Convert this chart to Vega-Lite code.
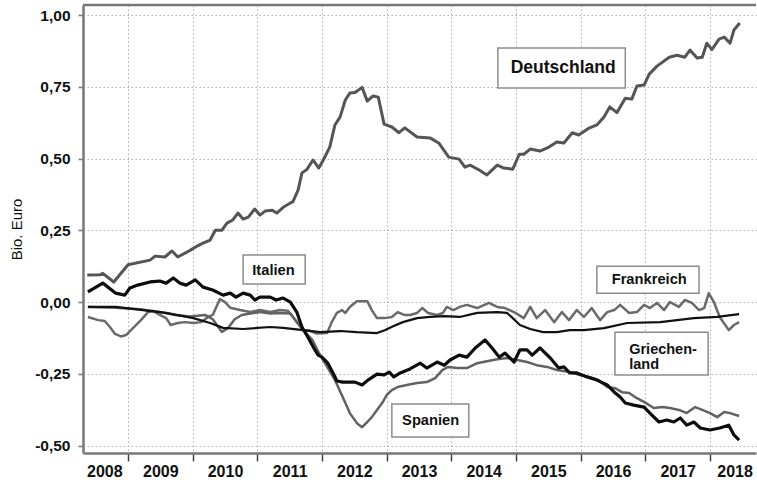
{
  "$schema": "https://vega.github.io/schema/vega-lite/v6.json",
  "width": 673,
  "height": 448,
  "autosize": {"type": "none"},
  "padding": {"left": 83, "top": 5, "right": 1, "bottom": 29},
  "background": "white",
  "config": {"view": {"stroke": null}, "font": "Liberation Sans"},
  "datasets": {
    "de": [
      {"jahr": 2008.37, "wert": 0.094}, {"jahr": 2008.57, "wert": 0.095}, {"jahr": 2008.61, "wert": 0.10}, {"jahr": 2008.78, "wert": 0.07},
      {"jahr": 2009.00, "wert": 0.13}, {"jahr": 2009.34, "wert": 0.146}, {"jahr": 2009.42, "wert": 0.16}, {"jahr": 2009.57, "wert": 0.157},
      {"jahr": 2009.68, "wert": 0.178}, {"jahr": 2009.77, "wert": 0.157}, {"jahr": 2009.96, "wert": 0.18}, {"jahr": 2010.07, "wert": 0.195},
      {"jahr": 2010.16, "wert": 0.205}, {"jahr": 2010.27, "wert": 0.216}, {"jahr": 2010.35, "wert": 0.25}, {"jahr": 2010.45, "wert": 0.25},
      {"jahr": 2010.53, "wert": 0.275}, {"jahr": 2010.62, "wert": 0.286}, {"jahr": 2010.70, "wert": 0.31}, {"jahr": 2010.78, "wert": 0.289},
      {"jahr": 2010.86, "wert": 0.296}, {"jahr": 2010.96, "wert": 0.324}, {"jahr": 2011.04, "wert": 0.303}, {"jahr": 2011.12, "wert": 0.317},
      {"jahr": 2011.23, "wert": 0.32}, {"jahr": 2011.30, "wert": 0.31}, {"jahr": 2011.40, "wert": 0.33}, {"jahr": 2011.51, "wert": 0.345},
      {"jahr": 2011.55, "wert": 0.35}, {"jahr": 2011.63, "wert": 0.39}, {"jahr": 2011.69, "wert": 0.45}, {"jahr": 2011.77, "wert": 0.463},
      {"jahr": 2011.86, "wert": 0.495}, {"jahr": 2011.95, "wert": 0.467}, {"jahr": 2012.02, "wert": 0.495}, {"jahr": 2012.12, "wert": 0.54},
      {"jahr": 2012.20, "wert": 0.617}, {"jahr": 2012.28, "wert": 0.645}, {"jahr": 2012.36, "wert": 0.704}, {"jahr": 2012.43, "wert": 0.728},
      {"jahr": 2012.51, "wert": 0.73}, {"jahr": 2012.62, "wert": 0.748}, {"jahr": 2012.70, "wert": 0.70}, {"jahr": 2012.79, "wert": 0.718},
      {"jahr": 2012.87, "wert": 0.714}, {"jahr": 2012.96, "wert": 0.62}, {"jahr": 2013.08, "wert": 0.61}, {"jahr": 2013.19, "wert": 0.59},
      {"jahr": 2013.28, "wert": 0.607}, {"jahr": 2013.47, "wert": 0.575}, {"jahr": 2013.67, "wert": 0.572}, {"jahr": 2013.81, "wert": 0.553},
      {"jahr": 2013.96, "wert": 0.505}, {"jahr": 2014.12, "wert": 0.498}, {"jahr": 2014.21, "wert": 0.47}, {"jahr": 2014.29, "wert": 0.477},
      {"jahr": 2014.43, "wert": 0.46}, {"jahr": 2014.55, "wert": 0.443}, {"jahr": 2014.71, "wert": 0.477}, {"jahr": 2014.81, "wert": 0.467},
      {"jahr": 2014.95, "wert": 0.463}, {"jahr": 2015.05, "wert": 0.515}, {"jahr": 2015.12, "wert": 0.515}, {"jahr": 2015.22, "wert": 0.533},
      {"jahr": 2015.37, "wert": 0.526}, {"jahr": 2015.51, "wert": 0.54}, {"jahr": 2015.63, "wert": 0.558}, {"jahr": 2015.74, "wert": 0.554},
      {"jahr": 2015.87, "wert": 0.59}, {"jahr": 2015.97, "wert": 0.582}, {"jahr": 2016.13, "wert": 0.606}, {"jahr": 2016.25, "wert": 0.617},
      {"jahr": 2016.36, "wert": 0.645}, {"jahr": 2016.45, "wert": 0.68}, {"jahr": 2016.56, "wert": 0.66}, {"jahr": 2016.69, "wert": 0.71},
      {"jahr": 2016.79, "wert": 0.707}, {"jahr": 2016.87, "wert": 0.753}, {"jahr": 2016.98, "wert": 0.756}, {"jahr": 2017.06, "wert": 0.794},
      {"jahr": 2017.18, "wert": 0.822}, {"jahr": 2017.37, "wert": 0.853}, {"jahr": 2017.49, "wert": 0.86}, {"jahr": 2017.61, "wert": 0.853},
      {"jahr": 2017.69, "wert": 0.878}, {"jahr": 2017.80, "wert": 0.85}, {"jahr": 2017.88, "wert": 0.853}, {"jahr": 2017.95, "wert": 0.902},
      {"jahr": 2018.03, "wert": 0.88}, {"jahr": 2018.14, "wert": 0.916}, {"jahr": 2018.22, "wert": 0.923}, {"jahr": 2018.31, "wert": 0.902},
      {"jahr": 2018.37, "wert": 0.948}, {"jahr": 2018.46, "wert": 0.972}
    ],
    "it": [
      {"jahr": 2008.38, "wert": 0.035}, {"jahr": 2008.61, "wert": 0.066}, {"jahr": 2008.69, "wert": 0.052}, {"jahr": 2008.81, "wert": 0.031},
      {"jahr": 2008.95, "wert": 0.024}, {"jahr": 2009.03, "wert": 0.049}, {"jahr": 2009.15, "wert": 0.059}, {"jahr": 2009.34, "wert": 0.07},
      {"jahr": 2009.49, "wert": 0.073}, {"jahr": 2009.59, "wert": 0.066}, {"jahr": 2009.70, "wert": 0.084}, {"jahr": 2009.80, "wert": 0.066},
      {"jahr": 2009.90, "wert": 0.059}, {"jahr": 2010.04, "wert": 0.077}, {"jahr": 2010.16, "wert": 0.052}, {"jahr": 2010.31, "wert": 0.042},
      {"jahr": 2010.47, "wert": 0.024}, {"jahr": 2010.58, "wert": 0.031}, {"jahr": 2010.67, "wert": 0.017}, {"jahr": 2010.78, "wert": 0.031},
      {"jahr": 2010.89, "wert": 0.024}, {"jahr": 2010.96, "wert": 0.007}, {"jahr": 2011.04, "wert": 0.017}, {"jahr": 2011.20, "wert": 0.017},
      {"jahr": 2011.29, "wert": 0.007}, {"jahr": 2011.40, "wert": 0.014}, {"jahr": 2011.51, "wert": 0.0}, {"jahr": 2011.61, "wert": -0.035},
      {"jahr": 2011.69, "wert": -0.087}, {"jahr": 2011.78, "wert": -0.122}, {"jahr": 2011.89, "wert": -0.167}, {"jahr": 2011.94, "wert": -0.185},
      {"jahr": 2012.00, "wert": -0.192}, {"jahr": 2012.09, "wert": -0.213}, {"jahr": 2012.17, "wert": -0.247}, {"jahr": 2012.23, "wert": -0.275},
      {"jahr": 2012.32, "wert": -0.279}, {"jahr": 2012.51, "wert": -0.279}, {"jahr": 2012.62, "wert": -0.289}, {"jahr": 2012.71, "wert": -0.272},
      {"jahr": 2012.85, "wert": -0.251}, {"jahr": 2012.96, "wert": -0.254}, {"jahr": 2013.04, "wert": -0.244}, {"jahr": 2013.11, "wert": -0.261},
      {"jahr": 2013.21, "wert": -0.247}, {"jahr": 2013.36, "wert": -0.233}, {"jahr": 2013.52, "wert": -0.213}, {"jahr": 2013.62, "wert": -0.23},
      {"jahr": 2013.78, "wert": -0.209}, {"jahr": 2013.89, "wert": -0.22}, {"jahr": 2013.98, "wert": -0.202}, {"jahr": 2014.12, "wert": -0.185},
      {"jahr": 2014.24, "wert": -0.192}, {"jahr": 2014.37, "wert": -0.16}, {"jahr": 2014.52, "wert": -0.132}, {"jahr": 2014.63, "wert": -0.16},
      {"jahr": 2014.74, "wert": -0.192}, {"jahr": 2014.83, "wert": -0.178}, {"jahr": 2014.97, "wert": -0.209}, {"jahr": 2015.06, "wert": -0.167},
      {"jahr": 2015.17, "wert": -0.167}, {"jahr": 2015.25, "wert": -0.185}, {"jahr": 2015.37, "wert": -0.16}, {"jahr": 2015.53, "wert": -0.195},
      {"jahr": 2015.66, "wert": -0.23}, {"jahr": 2015.74, "wert": -0.226}, {"jahr": 2015.83, "wert": -0.247}, {"jahr": 2015.94, "wert": -0.247},
      {"jahr": 2016.10, "wert": -0.261}, {"jahr": 2016.25, "wert": -0.272}, {"jahr": 2016.41, "wert": -0.289}, {"jahr": 2016.52, "wert": -0.314},
      {"jahr": 2016.61, "wert": -0.331}, {"jahr": 2016.69, "wert": -0.352}, {"jahr": 2016.82, "wert": -0.359}, {"jahr": 2016.98, "wert": -0.366},
      {"jahr": 2017.07, "wert": -0.387}, {"jahr": 2017.21, "wert": -0.418}, {"jahr": 2017.33, "wert": -0.411}, {"jahr": 2017.44, "wert": -0.418},
      {"jahr": 2017.54, "wert": -0.404}, {"jahr": 2017.64, "wert": -0.429}, {"jahr": 2017.75, "wert": -0.418}, {"jahr": 2017.85, "wert": -0.439},
      {"jahr": 2018.00, "wert": -0.446}, {"jahr": 2018.15, "wert": -0.439}, {"jahr": 2018.29, "wert": -0.429}, {"jahr": 2018.37, "wert": -0.463},
      {"jahr": 2018.45, "wert": -0.481}
    ],
    "es": [
      {"jahr": 2008.38, "wert": -0.017}, {"jahr": 2008.81, "wert": -0.02}, {"jahr": 2009.19, "wert": -0.025}, {"jahr": 2009.49, "wert": -0.035},
      {"jahr": 2009.73, "wert": -0.045}, {"jahr": 2009.96, "wert": -0.05}, {"jahr": 2010.19, "wert": -0.045}, {"jahr": 2010.31, "wert": -0.06},
      {"jahr": 2010.39, "wert": -0.085}, {"jahr": 2010.45, "wert": -0.104}, {"jahr": 2010.55, "wert": -0.09}, {"jahr": 2010.65, "wert": -0.06},
      {"jahr": 2010.76, "wert": -0.045}, {"jahr": 2010.89, "wert": -0.04}, {"jahr": 2011.04, "wert": -0.035}, {"jahr": 2011.20, "wert": -0.04},
      {"jahr": 2011.35, "wert": -0.038}, {"jahr": 2011.51, "wert": -0.04}, {"jahr": 2011.61, "wert": -0.07}, {"jahr": 2011.71, "wert": -0.098},
      {"jahr": 2011.85, "wert": -0.132}, {"jahr": 2011.97, "wert": -0.185}, {"jahr": 2012.08, "wert": -0.226}, {"jahr": 2012.20, "wert": -0.272},
      {"jahr": 2012.32, "wert": -0.331}, {"jahr": 2012.43, "wert": -0.387}, {"jahr": 2012.54, "wert": -0.422}, {"jahr": 2012.62, "wert": -0.436},
      {"jahr": 2012.70, "wert": -0.418}, {"jahr": 2012.77, "wert": -0.401}, {"jahr": 2012.85, "wert": -0.376}, {"jahr": 2012.93, "wert": -0.352},
      {"jahr": 2013.00, "wert": -0.324}, {"jahr": 2013.08, "wert": -0.307}, {"jahr": 2013.17, "wert": -0.296}, {"jahr": 2013.31, "wert": -0.289},
      {"jahr": 2013.47, "wert": -0.282}, {"jahr": 2013.62, "wert": -0.279}, {"jahr": 2013.75, "wert": -0.265}, {"jahr": 2013.86, "wert": -0.237},
      {"jahr": 2013.95, "wert": -0.226}, {"jahr": 2014.09, "wert": -0.23}, {"jahr": 2014.24, "wert": -0.23}, {"jahr": 2014.40, "wert": -0.213},
      {"jahr": 2014.55, "wert": -0.206}, {"jahr": 2014.71, "wert": -0.199}, {"jahr": 2014.86, "wert": -0.195}, {"jahr": 2015.02, "wert": -0.202},
      {"jahr": 2015.17, "wert": -0.209}, {"jahr": 2015.32, "wert": -0.22}, {"jahr": 2015.48, "wert": -0.226}, {"jahr": 2015.63, "wert": -0.237},
      {"jahr": 2015.83, "wert": -0.244}, {"jahr": 2015.99, "wert": -0.254}, {"jahr": 2016.14, "wert": -0.261}, {"jahr": 2016.28, "wert": -0.272},
      {"jahr": 2016.41, "wert": -0.296}, {"jahr": 2016.53, "wert": -0.3}, {"jahr": 2016.64, "wert": -0.314}, {"jahr": 2016.75, "wert": -0.317},
      {"jahr": 2016.84, "wert": -0.331}, {"jahr": 2016.98, "wert": -0.348}, {"jahr": 2017.13, "wert": -0.369}, {"jahr": 2017.26, "wert": -0.366},
      {"jahr": 2017.38, "wert": -0.369}, {"jahr": 2017.52, "wert": -0.376}, {"jahr": 2017.64, "wert": -0.387}, {"jahr": 2017.77, "wert": -0.366},
      {"jahr": 2017.88, "wert": -0.376}, {"jahr": 2018.00, "wert": -0.387}, {"jahr": 2018.11, "wert": -0.401}, {"jahr": 2018.22, "wert": -0.383},
      {"jahr": 2018.31, "wert": -0.387}, {"jahr": 2018.45, "wert": -0.397}
    ],
    "fr": [
      {"jahr": 2008.38, "wert": -0.052}, {"jahr": 2008.54, "wert": -0.063}, {"jahr": 2008.64, "wert": -0.066}, {"jahr": 2008.72, "wert": -0.087},
      {"jahr": 2008.80, "wert": -0.111}, {"jahr": 2008.89, "wert": -0.12}, {"jahr": 2008.97, "wert": -0.115}, {"jahr": 2009.08, "wert": -0.09},
      {"jahr": 2009.20, "wert": -0.063}, {"jahr": 2009.31, "wert": -0.035}, {"jahr": 2009.39, "wert": -0.031}, {"jahr": 2009.49, "wert": -0.045},
      {"jahr": 2009.59, "wert": -0.056}, {"jahr": 2009.66, "wert": -0.08}, {"jahr": 2009.77, "wert": -0.073}, {"jahr": 2009.88, "wert": -0.07},
      {"jahr": 2010.01, "wert": -0.073}, {"jahr": 2010.13, "wert": -0.07}, {"jahr": 2010.24, "wert": -0.052}, {"jahr": 2010.31, "wert": -0.045},
      {"jahr": 2010.38, "wert": -0.01}, {"jahr": 2010.42, "wert": 0.01}, {"jahr": 2010.50, "wert": 0.0}, {"jahr": 2010.58, "wert": -0.02},
      {"jahr": 2010.73, "wert": -0.028}, {"jahr": 2010.89, "wert": -0.035}, {"jahr": 2011.04, "wert": -0.028}, {"jahr": 2011.20, "wert": -0.035},
      {"jahr": 2011.35, "wert": -0.028}, {"jahr": 2011.47, "wert": -0.03}, {"jahr": 2011.58, "wert": -0.06}, {"jahr": 2011.71, "wert": -0.098},
      {"jahr": 2011.81, "wert": -0.1}, {"jahr": 2011.92, "wert": -0.11}, {"jahr": 2012.08, "wert": -0.108}, {"jahr": 2012.15, "wert": -0.07},
      {"jahr": 2012.23, "wert": -0.038}, {"jahr": 2012.31, "wert": -0.028}, {"jahr": 2012.36, "wert": -0.038}, {"jahr": 2012.43, "wert": -0.017},
      {"jahr": 2012.54, "wert": 0.003}, {"jahr": 2012.70, "wert": 0.003}, {"jahr": 2012.77, "wert": -0.028}, {"jahr": 2012.85, "wert": -0.056},
      {"jahr": 2012.97, "wert": -0.056}, {"jahr": 2013.08, "wert": -0.052}, {"jahr": 2013.17, "wert": -0.035}, {"jahr": 2013.27, "wert": -0.045},
      {"jahr": 2013.36, "wert": -0.045}, {"jahr": 2013.47, "wert": -0.038}, {"jahr": 2013.55, "wert": -0.021}, {"jahr": 2013.64, "wert": -0.038},
      {"jahr": 2013.78, "wert": -0.045}, {"jahr": 2013.87, "wert": -0.038}, {"jahr": 2013.93, "wert": -0.017}, {"jahr": 2014.03, "wert": -0.028},
      {"jahr": 2014.13, "wert": -0.017}, {"jahr": 2014.24, "wert": -0.01}, {"jahr": 2014.40, "wert": -0.021}, {"jahr": 2014.58, "wert": -0.003},
      {"jahr": 2014.71, "wert": -0.017}, {"jahr": 2014.83, "wert": -0.021}, {"jahr": 2014.97, "wert": -0.035}, {"jahr": 2015.12, "wert": -0.056},
      {"jahr": 2015.22, "wert": -0.017}, {"jahr": 2015.32, "wert": -0.056}, {"jahr": 2015.45, "wert": -0.028}, {"jahr": 2015.59, "wert": -0.07},
      {"jahr": 2015.71, "wert": -0.035}, {"jahr": 2015.82, "wert": -0.063}, {"jahr": 2015.94, "wert": -0.028}, {"jahr": 2016.05, "wert": -0.052},
      {"jahr": 2016.17, "wert": -0.021}, {"jahr": 2016.30, "wert": -0.063}, {"jahr": 2016.41, "wert": -0.035}, {"jahr": 2016.52, "wert": -0.028},
      {"jahr": 2016.61, "wert": -0.01}, {"jahr": 2016.75, "wert": -0.038}, {"jahr": 2016.87, "wert": -0.035}, {"jahr": 2016.98, "wert": -0.01},
      {"jahr": 2017.07, "wert": -0.021}, {"jahr": 2017.18, "wert": -0.003}, {"jahr": 2017.29, "wert": -0.028}, {"jahr": 2017.38, "wert": 0.0},
      {"jahr": 2017.52, "wert": -0.017}, {"jahr": 2017.61, "wert": 0.007}, {"jahr": 2017.72, "wert": -0.003}, {"jahr": 2017.83, "wert": -0.028},
      {"jahr": 2017.91, "wert": -0.021}, {"jahr": 2017.98, "wert": 0.031}, {"jahr": 2018.06, "wert": 0.0}, {"jahr": 2018.15, "wert": -0.052},
      {"jahr": 2018.29, "wert": -0.098}, {"jahr": 2018.37, "wert": -0.08}, {"jahr": 2018.45, "wert": -0.07}
    ],
    "gr": [
      {"jahr": 2008.38, "wert": -0.017}, {"jahr": 2008.81, "wert": -0.017}, {"jahr": 2009.23, "wert": -0.028}, {"jahr": 2009.59, "wert": -0.038},
      {"jahr": 2010.01, "wert": -0.056}, {"jahr": 2010.27, "wert": -0.073}, {"jahr": 2010.47, "wert": -0.09}, {"jahr": 2010.78, "wert": -0.094},
      {"jahr": 2011.20, "wert": -0.087}, {"jahr": 2011.40, "wert": -0.09}, {"jahr": 2011.71, "wert": -0.098}, {"jahr": 2011.97, "wert": -0.105},
      {"jahr": 2012.28, "wert": -0.101}, {"jahr": 2012.54, "wert": -0.105}, {"jahr": 2012.85, "wert": -0.108}, {"jahr": 2012.97, "wert": -0.098},
      {"jahr": 2013.10, "wert": -0.084}, {"jahr": 2013.25, "wert": -0.07}, {"jahr": 2013.47, "wert": -0.056}, {"jahr": 2013.67, "wert": -0.052},
      {"jahr": 2013.89, "wert": -0.049}, {"jahr": 2014.13, "wert": -0.052}, {"jahr": 2014.40, "wert": -0.038}, {"jahr": 2014.71, "wert": -0.035},
      {"jahr": 2014.86, "wert": -0.038}, {"jahr": 2014.95, "wert": -0.056}, {"jahr": 2015.06, "wert": -0.08}, {"jahr": 2015.22, "wert": -0.094},
      {"jahr": 2015.42, "wert": -0.105}, {"jahr": 2015.63, "wert": -0.105}, {"jahr": 2015.83, "wert": -0.098}, {"jahr": 2016.05, "wert": -0.098},
      {"jahr": 2016.36, "wert": -0.091}, {"jahr": 2016.72, "wert": -0.073}, {"jahr": 2017.23, "wert": -0.07}, {"jahr": 2017.75, "wert": -0.056},
      {"jahr": 2018.11, "wert": -0.052}, {"jahr": 2018.45, "wert": -0.042}
    ],
    "boxen": [
      {"land": "Deutschland", "x1": 2014.72, "x2": 2016.69, "y1": 0.746, "y2": 0.885},
      {"land": "Italien", "x1": 2010.78, "x2": 2011.74, "y1": 0.063, "y2": 0.164},
      {"land": "Frankreich", "x1": 2016.25, "x2": 2017.83, "y1": 0.031, "y2": 0.125},
      {"land": "Griechenland", "x1": 2016.53, "x2": 2017.97, "y1": -0.254, "y2": -0.105},
      {"land": "Spanien", "x1": 2013.08, "x2": 2014.27, "y1": -0.470, "y2": -0.355}
    ],
    "gross": [
      {"text": "Deutschland", "jahr": 2015.73, "wert": 0.817}
    ],
    "klein": [
      {"text": "Italien", "jahr": 2011.25, "wert": 0.108},
      {"text": "Frankreich", "jahr": 2017.06, "wert": 0.077},
      {"text": "Spanien", "jahr": 2013.68, "wert": -0.416}
    ],
    "gr_label": [
      {"text": "Griechen-\nland", "jahr": 2016.75, "wert": -0.168}
    ]
  },
  "layer": [
    {
      "data": {"name": "de"},
      "mark": {"type": "line", "color": "#555555", "strokeWidth": 3, "strokeJoin": "round"},
      "encoding": {
        "x": {
          "field": "jahr", "type": "quantitative",
          "scale": {"domain": [2008.304, 2018.711], "nice": false, "zero": false},
          "axis": {
            "title": null,
            "values": [2008.5, 2009.5, 2010.5, 2011.5, 2012.5, 2013.5, 2014.5, 2015.5, 2016.5, 2017.5, 2018.5],
            "labelExpr": "format(floor(datum.value), 'd')",
            "tickOffset": -32.33,
            "labelOffset": {"condition": [{"test": "datum.value < 2009", "value": 41}, {"test": "datum.value > 2018", "value": 24.5}], "value": 32.33},
            "labelFlush": false,
            "labelOverlap": false,
            "labelFont": "Liberation Sans",
            "labelFontSize": 16,
            "labelFontWeight": "bold",
            "labelColor": "#111111",
            "labelPadding": 2,
            "tickSize": 8,
            "tickColor": "#444444",
            "tickWidth": 1.5,
            "tickOpacity": {"condition": {"test": "datum.value < 2009", "value": 0}, "value": 1},
            "domainColor": "#777777",
            "domainWidth": 2.5,
            "grid": true,
            "gridColor": "#b0b0b0",
            "gridDash": [1.5, 2.5],
            "gridWidth": 1,
            "gridOpacity": {"condition": {"test": "datum.value < 2009", "value": 0}, "value": 1}
          }
        },
        "y": {
          "field": "wert", "type": "quantitative",
          "scale": {"domain": [-0.526, 1.035], "nice": false, "zero": false},
          "axis": {
            "title": "Bio. Euro",
            "titleFont": "Liberation Sans",
            "titleFontSize": 15,
            "titleFontWeight": "normal",
            "titleColor": "#111111",
            "titlePadding": 10,
            "values": [-0.5, -0.25, 0, 0.25, 0.5, 0.75, 1],
            "labelExpr": "replace(replace(format(datum.value, '.2f'), '.', ','), '\u2212', '-')",
            "labelFont": "Liberation Sans",
            "labelFontSize": 15.5,
            "labelFontWeight": "bold",
            "labelColor": "#111111",
            "labelPadding": 8,
            "tickSize": 5,
            "tickColor": "#777777",
            "tickWidth": 1.5,
            "domainColor": "#777777",
            "domainWidth": 2.5,
            "grid": true,
            "gridColor": "#b0b0b0",
            "gridDash": [1.5, 2.5],
            "gridWidth": 1
          }
        }
      }
    },
    {
      "data": {"name": "fr"},
      "mark": {"type": "line", "color": "#6a6a6a", "strokeWidth": 2.5, "strokeJoin": "round"},
      "encoding": {
        "x": {"field": "jahr", "type": "quantitative", "scale": {"domain": [2008.304, 2018.711], "nice": false, "zero": false}},
        "y": {"field": "wert", "type": "quantitative", "scale": {"domain": [-0.526, 1.035], "nice": false, "zero": false}}
      }
    },
    {
      "data": {"name": "es"},
      "mark": {"type": "line", "color": "#626262", "strokeWidth": 2.5, "strokeJoin": "round"},
      "encoding": {
        "x": {"field": "jahr", "type": "quantitative", "scale": {"domain": [2008.304, 2018.711], "nice": false, "zero": false}},
        "y": {"field": "wert", "type": "quantitative", "scale": {"domain": [-0.526, 1.035], "nice": false, "zero": false}}
      }
    },
    {
      "data": {"name": "gr"},
      "mark": {"type": "line", "color": "#111111", "strokeWidth": 2.2, "strokeJoin": "round"},
      "encoding": {
        "x": {"field": "jahr", "type": "quantitative", "scale": {"domain": [2008.304, 2018.711], "nice": false, "zero": false}},
        "y": {"field": "wert", "type": "quantitative", "scale": {"domain": [-0.526, 1.035], "nice": false, "zero": false}}
      }
    },
    {
      "data": {"name": "it"},
      "mark": {"type": "line", "color": "#0d0d0d", "strokeWidth": 3.2, "strokeJoin": "round"},
      "encoding": {
        "x": {"field": "jahr", "type": "quantitative", "scale": {"domain": [2008.304, 2018.711], "nice": false, "zero": false}},
        "y": {"field": "wert", "type": "quantitative", "scale": {"domain": [-0.526, 1.035], "nice": false, "zero": false}}
      }
    },
    {
      "data": {"name": "boxen"},
      "mark": {"type": "rect", "fill": "white", "stroke": "#8c8c8c", "strokeWidth": 1.5},
      "encoding": {
        "x": {"field": "x1", "type": "quantitative", "scale": {"domain": [2008.304, 2018.711], "nice": false, "zero": false}},
        "x2": {"field": "x2"},
        "y": {"field": "y1", "type": "quantitative", "scale": {"domain": [-0.526, 1.035], "nice": false, "zero": false}},
        "y2": {"field": "y2"}
      }
    },
    {
      "data": {"name": "gross"},
      "mark": {"type": "text", "font": "Liberation Sans", "fontSize": 17.5, "fontWeight": "bold", "color": "#111111", "align": "center", "baseline": "middle"},
      "encoding": {
        "x": {"field": "jahr", "type": "quantitative", "scale": {"domain": [2008.304, 2018.711], "nice": false, "zero": false}},
        "y": {"field": "wert", "type": "quantitative", "scale": {"domain": [-0.526, 1.035], "nice": false, "zero": false}},
        "text": {"field": "text"}
      }
    },
    {
      "data": {"name": "klein"},
      "mark": {"type": "text", "font": "Liberation Sans", "fontSize": 14.7, "fontWeight": "bold", "color": "#111111", "align": "center", "baseline": "middle"},
      "encoding": {
        "x": {"field": "jahr", "type": "quantitative", "scale": {"domain": [2008.304, 2018.711], "nice": false, "zero": false}},
        "y": {"field": "wert", "type": "quantitative", "scale": {"domain": [-0.526, 1.035], "nice": false, "zero": false}},
        "text": {"field": "text"}
      }
    },
    {
      "data": {"name": "gr_label"},
      "mark": {"type": "text", "font": "Liberation Sans", "fontSize": 14.5, "fontWeight": "bold", "color": "#111111", "align": "left", "baseline": "middle", "lineBreak": "\n", "lineHeight": 15},
      "encoding": {
        "x": {"field": "jahr", "type": "quantitative", "scale": {"domain": [2008.304, 2018.711], "nice": false, "zero": false}},
        "y": {"field": "wert", "type": "quantitative", "scale": {"domain": [-0.526, 1.035], "nice": false, "zero": false}},
        "text": {"field": "text"}
      }
    },
    {
      "data": {"values": [{}]},
      "mark": {"type": "rule", "color": "#777777", "strokeWidth": 2.5},
      "encoding": {
        "y": {"datum": 1.035, "type": "quantitative", "scale": {"domain": [-0.526, 1.035], "nice": false, "zero": false}}
      }
    }
  ]
}
